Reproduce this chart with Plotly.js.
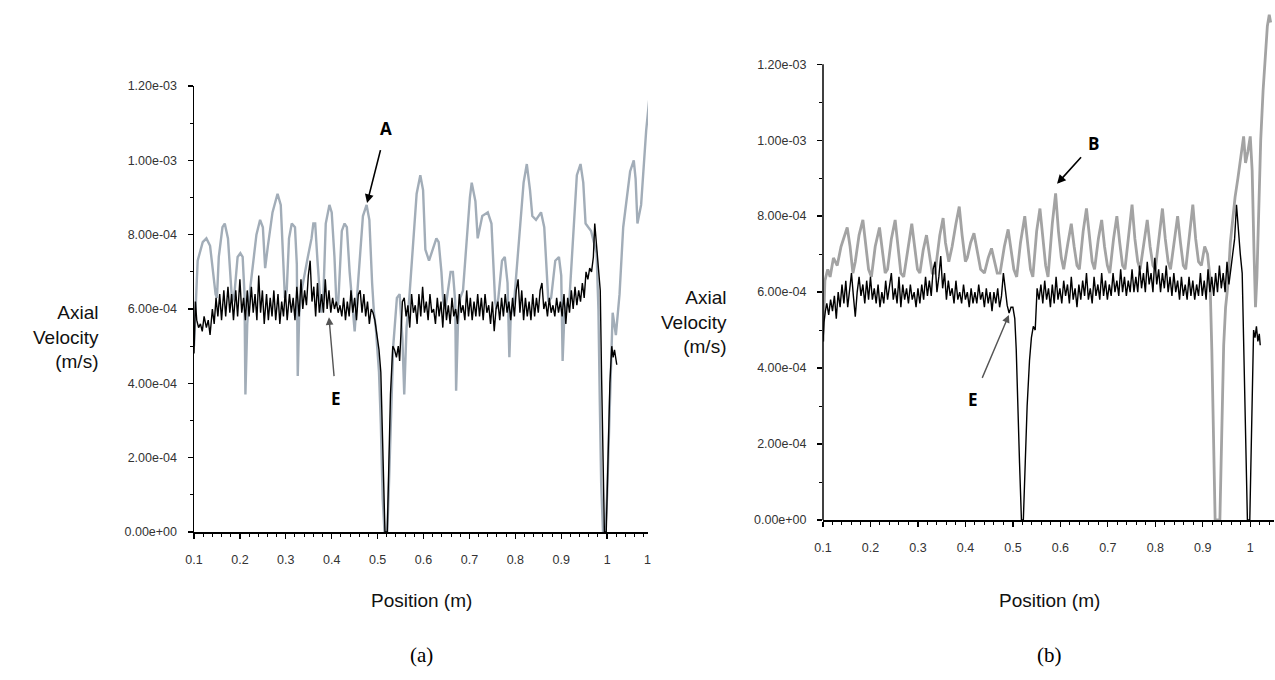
<!DOCTYPE html>
<html>
<head>
<meta charset="utf-8">
<script src="https://cdn.plot.ly/plotly-3.0.1.min.js"></script>
<style>html,body{margin:0;padding:0;background:#fff;}#chart{width:1275px;height:680px;}</style>
</head>
<body>
<div id="chart"></div>
<script>
// Velocities are in units of 1e-4 m/s ; positions in m
const xTickVals = [0.1,0.2,0.3,0.4,0.5,0.6,0.7,0.8,0.9,1.0];
const xTickText = ["0.1","0.2","0.3","0.4","0.5","0.6","0.7","0.8","0.9","1"];
const yTickVals = [0,2,4,6,8,10,12];
const yTickText = ["0.00e+00","2.00e-04","4.00e-04","6.00e-04","8.00e-04","1.00e-03","1.20e-03"];

// Panel (a) grey curve (A)
const gridA_grey = [
[0.100,5.0],[0.104,6.2],[0.108,7.3],[0.119,7.8],[0.127,7.9],[0.135,7.7],[0.141,7.0],[0.147,6.4],[0.150,6.3],
[0.154,7.4],[0.162,8.2],[0.167,8.3],[0.174,7.9],[0.178,7.1],[0.183,6.2],[0.188,6.4],[0.195,7.4],[0.201,7.5],
[0.206,7.4],[0.210,6.4],[0.212,3.7],[0.216,5.6],[0.220,6.3],[0.236,8.0],[0.244,8.4],[0.250,8.2],[0.255,7.1],
[0.261,7.7],[0.271,8.6],[0.282,9.1],[0.289,8.8],[0.294,7.4],[0.298,6.3],[0.302,6.5],[0.307,7.9],[0.313,8.3],
[0.320,8.2],[0.324,7.2],[0.326,4.2],[0.329,5.8],[0.333,6.4],[0.348,7.4],[0.356,7.9],[0.360,8.3],[0.364,8.3],
[0.369,7.3],[0.374,6.3],[0.377,5.9],[0.382,6.4],[0.387,8.3],[0.395,8.8],[0.400,8.6],[0.406,7.4],[0.410,6.2],
[0.414,6.1],[0.422,8.1],[0.428,8.3],[0.433,8.2],[0.439,7.0],[0.444,6.2],[0.450,5.4],[0.455,6.3],[0.468,8.5],
[0.476,8.8],[0.482,8.4],[0.488,6.7],[0.492,5.9],[0.496,5.5],[0.503,4.3],[0.507,2.9],[0.511,0.9],[0.515,0.0],
[0.521,0.0],[0.524,1.0],[0.529,2.9],[0.534,5.0],[0.542,6.3],[0.548,6.4],[0.554,5.2],[0.558,3.7],[0.563,5.5],
[0.569,6.3],[0.585,9.1],[0.593,9.6],[0.599,9.2],[0.604,7.6],[0.612,7.3],[0.628,7.9],[0.633,7.8],[0.639,7.0],
[0.643,6.2],[0.647,6.0],[0.651,6.3],[0.659,7.0],[0.664,7.0],[0.669,6.2],[0.671,3.8],[0.675,5.6],[0.680,6.3],
[0.686,6.5],[0.701,9.0],[0.705,9.4],[0.713,8.9],[0.718,7.9],[0.728,8.5],[0.740,8.6],[0.748,8.3],[0.752,7.4],
[0.756,6.2],[0.759,6.0],[0.763,6.3],[0.771,7.3],[0.777,7.4],[0.783,6.7],[0.787,4.7],[0.790,5.8],[0.798,6.3],
[0.818,9.4],[0.825,9.9],[0.832,9.2],[0.837,8.5],[0.845,8.4],[0.856,8.6],[0.863,8.2],[0.868,7.0],[0.872,6.2],
[0.878,6.3],[0.887,7.3],[0.895,7.4],[0.900,6.9],[0.903,4.6],[0.907,5.9],[0.918,6.3],[0.934,9.6],[0.942,9.9],
[0.948,9.4],[0.953,8.3],[0.965,8.1],[0.977,7.5],[0.981,6.0],[0.984,3.5],[0.987,1.3],[0.991,0.0],[0.996,0.0],
[1.000,1.0],[1.005,3.1],[1.012,5.9],[1.019,5.3],[1.027,6.4],[1.035,8.2],[1.050,9.7],[1.058,10.0],[1.062,9.5],
[1.066,8.3],[1.074,8.8],[1.085,10.8],[1.097,12.3]
];

// Panel (a) black curve (E)
const gridA_black = [
[0.100,4.8],[0.103,6.2],[0.106,5.7],[0.110,5.5],[0.114,5.6],[0.118,5.4],[0.122,5.8],[0.127,5.5],[0.131,5.7],
[0.135,5.3],[0.140,6.0],[0.144,5.6],[0.148,6.3],[0.152,5.8],[0.156,6.4],[0.160,5.7],[0.165,6.5],[0.169,5.8],
[0.174,6.6],[0.178,5.9],[0.182,6.4],[0.186,5.7],[0.191,6.5],[0.195,5.8],[0.200,6.8],[0.204,5.9],[0.208,6.3],
[0.212,5.7],[0.216,6.5],[0.220,5.8],[0.225,6.6],[0.229,5.9],[0.233,6.4],[0.237,5.7],[0.241,6.9],[0.245,5.9],
[0.249,6.5],[0.253,5.6],[0.258,6.4],[0.262,5.7],[0.266,6.3],[0.270,5.8],[0.274,6.5],[0.278,5.7],[0.283,6.4],
[0.287,5.6],[0.291,6.2],[0.295,5.8],[0.299,6.5],[0.303,5.7],[0.308,6.4],[0.312,5.9],[0.316,6.3],[0.320,5.7],
[0.324,6.6],[0.329,5.8],[0.333,6.8],[0.337,6.0],[0.341,6.5],[0.345,6.1],[0.349,6.9],[0.353,7.3],[0.357,6.2],
[0.361,6.6],[0.365,5.8],[0.369,6.7],[0.373,5.9],[0.378,6.4],[0.382,5.9],[0.386,6.8],[0.390,6.0],[0.394,6.5],
[0.398,5.9],[0.402,6.3],[0.406,6.0],[0.410,6.2],[0.414,5.9],[0.418,6.1],[0.422,5.8],[0.426,6.3],[0.430,5.7],
[0.434,6.2],[0.438,5.8],[0.442,6.5],[0.446,5.9],[0.450,6.3],[0.454,5.7],[0.458,6.4],[0.462,6.5],[0.466,5.9],
[0.470,6.4],[0.474,5.8],[0.478,6.2],[0.482,5.6],[0.486,6.0],[0.490,5.9],[0.494,5.7],[0.499,5.2],[0.503,4.9],
[0.507,4.3],[0.510,3.0],[0.513,1.4],[0.516,0.0],[0.521,0.0],[0.524,1.8],[0.528,3.7],[0.533,5.0],[0.537,4.9],
[0.541,4.7],[0.545,5.0],[0.548,4.6],[0.551,5.3],[0.554,6.2],[0.558,6.3],[0.562,5.8],[0.566,6.1],[0.570,5.5],
[0.574,6.4],[0.578,5.9],[0.582,6.1],[0.586,5.6],[0.590,6.4],[0.594,5.8],[0.598,6.6],[0.602,5.9],[0.606,6.2],
[0.610,5.7],[0.614,6.4],[0.618,5.9],[0.622,6.0],[0.626,5.6],[0.630,6.3],[0.634,5.8],[0.638,6.2],[0.642,5.5],
[0.646,6.4],[0.650,5.7],[0.654,6.1],[0.658,5.6],[0.662,6.3],[0.666,5.8],[0.670,6.0],[0.674,5.6],[0.678,6.4],
[0.682,5.9],[0.686,6.1],[0.690,5.7],[0.694,6.5],[0.698,5.8],[0.702,6.3],[0.706,5.7],[0.710,6.2],[0.714,5.8],
[0.718,6.4],[0.722,5.8],[0.726,6.3],[0.730,5.7],[0.734,6.4],[0.738,5.9],[0.742,6.1],[0.746,5.6],[0.750,6.2],
[0.754,5.4],[0.758,6.0],[0.762,6.2],[0.766,5.7],[0.770,6.3],[0.774,5.8],[0.778,6.4],[0.782,5.9],[0.786,6.2],
[0.790,5.7],[0.794,6.3],[0.798,5.8],[0.802,6.5],[0.806,6.8],[0.810,5.9],[0.814,6.5],[0.818,5.7],[0.822,6.3],
[0.826,5.8],[0.830,6.2],[0.834,5.7],[0.838,6.4],[0.842,5.8],[0.846,6.3],[0.850,5.9],[0.854,6.5],[0.858,6.7],
[0.862,6.0],[0.866,6.2],[0.870,5.8],[0.874,6.3],[0.878,5.9],[0.882,6.1],[0.886,5.8],[0.890,6.3],[0.894,5.9],
[0.898,6.2],[0.902,5.8],[0.906,6.4],[0.910,5.6],[0.914,6.3],[0.918,5.9],[0.922,6.5],[0.926,6.0],[0.930,6.6],
[0.934,6.1],[0.938,6.5],[0.942,6.2],[0.946,6.7],[0.950,6.3],[0.954,7.0],[0.958,6.8],[0.962,7.1],[0.966,7.0],
[0.970,7.4],[0.973,8.3],[0.976,7.8],[0.979,7.3],[0.982,7.0],[0.985,6.5],[0.988,4.1],[0.991,1.6],[0.994,0.0],
[0.998,0.0],[1.002,2.0],[1.006,4.0],[1.010,5.0],[1.013,4.7],[1.016,4.9],[1.019,4.6],[1.021,4.5]
];

// Panel (b) grey curve (B)
const gridB_grey = [
[0.100,4.7],[0.104,6.3],[0.110,6.6],[0.115,6.4],[0.122,6.9],[0.130,6.7],[0.138,7.2],[0.145,7.5],[0.151,7.7],
[0.157,7.2],[0.163,6.5],[0.168,6.8],[0.176,7.5],[0.184,7.9],[0.190,7.3],[0.196,6.6],[0.202,6.4],[0.210,7.2],
[0.219,7.7],[0.225,7.1],[0.231,6.5],[0.236,6.6],[0.244,7.4],[0.252,7.9],[0.258,7.2],[0.264,6.5],[0.270,6.4],
[0.280,7.3],[0.287,7.8],[0.293,7.2],[0.299,6.6],[0.304,6.5],[0.311,7.1],[0.318,7.5],[0.324,7.0],[0.330,6.5],
[0.336,6.5],[0.346,7.5],[0.353,7.95],[0.358,7.3],[0.365,6.8],[0.372,7.2],[0.380,7.8],[0.387,8.25],[0.393,7.5],
[0.400,6.8],[0.404,6.9],[0.411,7.3],[0.418,7.55],[0.424,7.1],[0.432,6.6],[0.440,6.5],[0.448,6.9],[0.455,7.15],
[0.461,6.8],[0.467,6.5],[0.473,6.5],[0.482,7.2],[0.490,7.65],[0.496,7.1],[0.502,6.6],[0.508,6.4],[0.516,7.3],
[0.525,8.0],[0.531,7.3],[0.537,6.6],[0.542,6.4],[0.550,7.6],[0.557,8.2],[0.563,7.4],[0.569,6.7],[0.574,6.4],
[0.583,7.8],[0.590,8.6],[0.596,7.6],[0.602,6.9],[0.607,6.6],[0.616,7.3],[0.623,7.8],[0.629,7.2],[0.635,6.7],
[0.640,6.6],[0.648,7.6],[0.655,8.2],[0.661,7.4],[0.667,6.8],[0.672,6.6],[0.680,7.4],[0.687,7.9],[0.693,7.2],
[0.699,6.7],[0.704,6.5],[0.712,7.4],[0.719,8.0],[0.725,7.3],[0.731,6.7],[0.736,6.6],[0.744,7.6],[0.751,8.3],
[0.757,7.4],[0.763,6.8],[0.768,6.6],[0.776,7.3],[0.783,7.9],[0.789,7.2],[0.795,6.7],[0.800,6.6],[0.808,7.5],
[0.815,8.2],[0.821,7.4],[0.827,6.8],[0.832,6.6],[0.840,7.4],[0.847,8.0],[0.853,7.3],[0.859,6.7],[0.864,6.6],
[0.872,7.6],[0.879,8.3],[0.885,7.4],[0.891,6.8],[0.897,6.7],[0.904,7.2],[0.910,7.0],[0.915,6.4],[0.919,4.5],
[0.923,1.5],[0.926,0.0],[0.936,0.0],[0.940,2.0],[0.944,4.6],[0.948,5.6],[0.953,6.2],[0.958,7.3],[0.963,7.9],
[0.968,8.5],[0.974,9.0],[0.980,9.6],[0.986,10.1],[0.990,9.4],[0.995,9.7],[1.000,10.1],[1.004,9.2],[1.008,7.0],
[1.011,5.6],[1.014,6.4],[1.018,8.6],[1.022,10.0],[1.027,11.3],[1.032,12.2],[1.036,13.0],[1.040,13.3],[1.043,13.1]
];

// Panel (b) black curve (E)
const gridB_black = [
[0.100,4.7],[0.102,5.2],[0.105,5.5],[0.108,5.7],[0.112,5.4],[0.116,5.8],[0.120,5.5],[0.124,5.9],[0.128,5.3],
[0.132,6.0],[0.136,5.6],[0.140,6.2],[0.144,5.7],[0.148,6.3],[0.152,5.6],[0.156,6.0],[0.160,6.5],[0.164,5.9],
[0.168,5.35],[0.172,6.0],[0.176,6.4],[0.180,5.9],[0.184,6.2],[0.188,5.7],[0.192,6.3],[0.196,5.8],[0.200,6.4],
[0.204,5.8],[0.208,6.1],[0.212,5.7],[0.216,6.2],[0.220,5.6],[0.224,6.0],[0.228,5.7],[0.232,6.3],[0.236,5.8],
[0.240,6.2],[0.244,6.5],[0.248,5.8],[0.252,6.1],[0.256,5.7],[0.260,6.4],[0.264,5.6],[0.268,6.2],[0.272,5.8],
[0.276,6.1],[0.280,5.7],[0.284,6.2],[0.288,5.8],[0.292,6.0],[0.296,5.6],[0.300,6.1],[0.304,5.7],[0.308,6.2],
[0.312,5.8],[0.316,6.4],[0.320,5.9],[0.324,6.3],[0.328,5.9],[0.332,6.6],[0.336,6.8],[0.340,6.0],[0.344,6.4],
[0.348,6.95],[0.352,6.1],[0.356,6.5],[0.360,5.8],[0.364,6.3],[0.368,5.9],[0.372,6.1],[0.376,5.7],[0.380,6.3],
[0.384,5.8],[0.388,6.0],[0.392,5.7],[0.396,6.2],[0.400,5.8],[0.404,6.0],[0.408,5.6],[0.412,6.1],[0.416,5.7],
[0.420,6.0],[0.424,5.7],[0.428,6.2],[0.432,5.8],[0.436,6.0],[0.440,5.6],[0.444,6.1],[0.448,5.7],[0.452,6.0],
[0.456,5.5],[0.460,6.0],[0.464,5.7],[0.468,6.1],[0.472,5.6],[0.476,5.9],[0.480,6.5],[0.484,6.0],[0.488,5.65],
[0.492,5.45],[0.496,5.6],[0.500,5.6],[0.504,5.3],[0.507,4.5],[0.510,3.0],[0.514,1.5],[0.518,0.0],[0.522,0.0],
[0.526,1.5],[0.530,3.0],[0.535,4.2],[0.539,4.8],[0.543,5.1],[0.547,5.0],[0.551,6.1],[0.555,5.8],[0.559,6.2],
[0.563,5.7],[0.567,6.3],[0.571,5.8],[0.575,6.1],[0.579,5.6],[0.583,6.2],[0.587,5.7],[0.591,6.4],[0.595,5.8],
[0.599,6.1],[0.603,5.7],[0.607,6.3],[0.611,5.9],[0.615,6.2],[0.619,5.7],[0.623,6.4],[0.627,5.8],[0.631,6.1],
[0.635,5.6],[0.639,6.2],[0.643,5.8],[0.647,6.3],[0.651,5.9],[0.655,6.5],[0.659,5.8],[0.663,6.1],[0.667,5.7],
[0.671,6.4],[0.675,5.9],[0.679,6.2],[0.683,5.8],[0.687,6.5],[0.691,5.9],[0.695,6.3],[0.699,5.8],[0.703,6.2],
[0.707,5.9],[0.711,6.5],[0.715,6.0],[0.719,6.3],[0.723,5.9],[0.727,6.6],[0.731,6.0],[0.735,6.4],[0.739,5.9],
[0.743,6.3],[0.747,6.0],[0.751,6.6],[0.755,6.0],[0.759,6.4],[0.763,6.0],[0.767,6.7],[0.771,6.1],[0.775,6.5],
[0.779,6.0],[0.783,6.8],[0.787,6.2],[0.791,6.5],[0.795,6.0],[0.799,6.9],[0.803,6.2],[0.807,6.6],[0.811,6.0],
[0.815,6.5],[0.819,6.1],[0.823,6.7],[0.827,6.0],[0.831,6.4],[0.835,5.9],[0.839,6.5],[0.843,6.0],[0.847,6.3],
[0.851,5.8],[0.855,6.4],[0.859,5.9],[0.863,6.2],[0.867,5.8],[0.871,6.4],[0.875,5.9],[0.879,6.3],[0.883,5.8],
[0.887,6.2],[0.891,5.9],[0.895,6.5],[0.899,5.9],[0.903,6.3],[0.907,5.8],[0.911,6.6],[0.915,6.0],[0.919,6.4],
[0.923,5.9],[0.927,6.5],[0.931,6.0],[0.935,6.7],[0.939,6.1],[0.943,6.5],[0.947,6.0],[0.951,6.8],[0.955,6.2],
[0.959,6.6],[0.963,7.0],[0.967,7.4],[0.971,8.3],[0.975,7.6],[0.979,7.0],[0.983,6.5],[0.987,4.0],[0.991,1.5],
[0.994,0.0],[0.999,0.0],[1.003,2.5],[1.007,5.0],[1.010,4.8],[1.013,5.1],[1.016,4.7],[1.019,4.9],[1.021,4.6]
];

const col = (g, i) => g.map(p => p[i]);

const traces = [
  {x: col(gridA_grey,0), y: col(gridA_grey,1), xaxis:'x', yaxis:'y', type:'scatter', mode:'lines',
   line:{color:'#a2adb8', width:2.4}, hoverinfo:'skip'},
  {x: col(gridA_black,0), y: col(gridA_black,1), xaxis:'x', yaxis:'y', type:'scatter', mode:'lines',
   line:{color:'#000000', width:1.4}, hoverinfo:'skip'},
  {x: col(gridB_grey,0), y: col(gridB_grey,1), xaxis:'x2', yaxis:'y2', type:'scatter', mode:'lines',
   line:{color:'#a3a3a3', width:2.8}, hoverinfo:'skip'},
  {x: col(gridB_black,0), y: col(gridB_black,1), xaxis:'x2', yaxis:'y2', type:'scatter', mode:'lines',
   line:{color:'#000000', width:1.4}, hoverinfo:'skip'}
];

const tickFont = {family:'Liberation Sans, Arial, sans-serif', size:12.5, color:'#333'};
const W = 1275, H = 680;
const px = v => v / W, py = v => (H - v) / H;

function xAx(domain, range) {
  return {domain: domain, range: range, showgrid:false, zeroline:false, showline:true, linecolor:'#000', linewidth:1.5,
    ticks:'outside', ticklen:5, tickwidth:1.3, tickcolor:'#000', tickmode:'array', tickvals:xTickVals, ticktext:xTickText,
    tickfont:tickFont, ticklabelstandoff:10,
    minor:{ticks:'outside', ticklen:3, tickwidth:1, tickcolor:'#000', dtick:0.02, tick0:0.1}, fixedrange:true};
}
function yAx(domain, range, anchor, showline) {
  return {domain: domain, range: range, anchor: anchor, showgrid:false, zeroline:false, showline:showline, linecolor:'#000', linewidth:1.5,
    ticks:'outside', ticklen:5, tickwidth:1.3, tickcolor:'#000', tickmode:'array', tickvals:yTickVals, ticktext:yTickText,
    tickfont:tickFont, ticklabelstandoff:8,
    minor:{ticks:'outside', ticklen:3, tickwidth:1, tickcolor:'#000', tickmode:'array', tickvals:[1,3,5,7,9,11]}, fixedrange:true};
}

const titleFont = {family:'Liberation Sans, Arial, sans-serif', size:19, color:'#111'};
const capFont = {family:'Liberation Serif, Times New Roman, serif', size:21, color:'#000'};
const markFont = {family:'Open Sans, sans-serif', size:17, color:'#000', weight:700};

const layout = {
  width: W, height: H, margin:{l:0, r:0, t:0, b:0}, paper_bgcolor:'#fff', plot_bgcolor:'rgba(0,0,0,0)',
  showlegend:false,
  xaxis: xAx([px(194), px(648)], [0.1, 1.089]),
  yaxis: yAx([py(532), py(86)], [0, 12], 'x', true),
  xaxis2: Object.assign(xAx([px(823), px(1274)], [0.1, 1.05]), {anchor:'y2'}),
  yaxis2: yAx([py(520), py(11)], [0, 13.4], 'x2', false),
  shapes: [
    {type:'line', xref:'paper', yref:'y2', x0:px(823), x1:px(823), y0:0, y1:12, line:{color:'#000', width:1.5}}
  ],
  annotations: [
    {xref:'paper', yref:'paper', x:px(101), y:py(337), xanchor:'right', yanchor:'middle', align:'right',
     text:'Axial<br>Velocity<br>(m/s)', showarrow:false, font:titleFont},
    {xref:'paper', yref:'paper', x:px(729), y:py(322), xanchor:'right', yanchor:'middle', align:'right',
     text:'Axial<br>Velocity<br>(m/s)', showarrow:false, font:titleFont},
    {xref:'paper', yref:'paper', x:px(421), y:py(600), xanchor:'center', yanchor:'middle',
     text:'Position (m)', showarrow:false, font:titleFont},
    {xref:'paper', yref:'paper', x:px(1049), y:py(600), xanchor:'center', yanchor:'middle',
     text:'Position (m)', showarrow:false, font:titleFont},
    {xref:'paper', yref:'paper', x:px(648), y:py(560), xanchor:'center', yanchor:'middle',
     text:'1', showarrow:false, font:tickFont},
    {xref:'paper', yref:'paper', x:px(421), y:py(655), xanchor:'center', yanchor:'middle',
     text:'(a)', showarrow:false, font:capFont},
    {xref:'paper', yref:'paper', x:px(1049), y:py(655), xanchor:'center', yanchor:'middle',
     text:'(b)', showarrow:false, font:capFont},
    {xref:'x', yref:'y', x:0.477, y:8.85, text:'A', showarrow:true, ax:19, ay:-75,
     arrowhead:2, arrowsize:1.1, arrowwidth:1.6, arrowcolor:'#000', font:markFont, bgcolor:'#fff', borderpad:10},
    {xref:'x', yref:'y', x:0.394, y:5.78, text:'E', showarrow:true, ax:7, ay:81,
     arrowhead:2, arrowsize:1.1, arrowwidth:1.4, arrowcolor:'#555', font:markFont, bgcolor:'#fff', borderpad:10},
    {xref:'x2', yref:'y2', x:0.593, y:8.85, text:'B', showarrow:true, ax:36, ay:-40,
     arrowhead:2, arrowsize:1.1, arrowwidth:1.6, arrowcolor:'#000', font:markFont, bgcolor:'#fff', borderpad:6},
    {xref:'x2', yref:'y2', x:0.4916, y:5.4, text:'E', showarrow:true, ax:-36, ay:85,
     arrowhead:2, arrowsize:1.1, arrowwidth:1.4, arrowcolor:'#555', font:markFont, bgcolor:'#fff', borderpad:10}
  ]
};

Plotly.newPlot('chart', traces, layout, {staticPlot:true, displayModeBar:false});
</script>
</body>
</html>
